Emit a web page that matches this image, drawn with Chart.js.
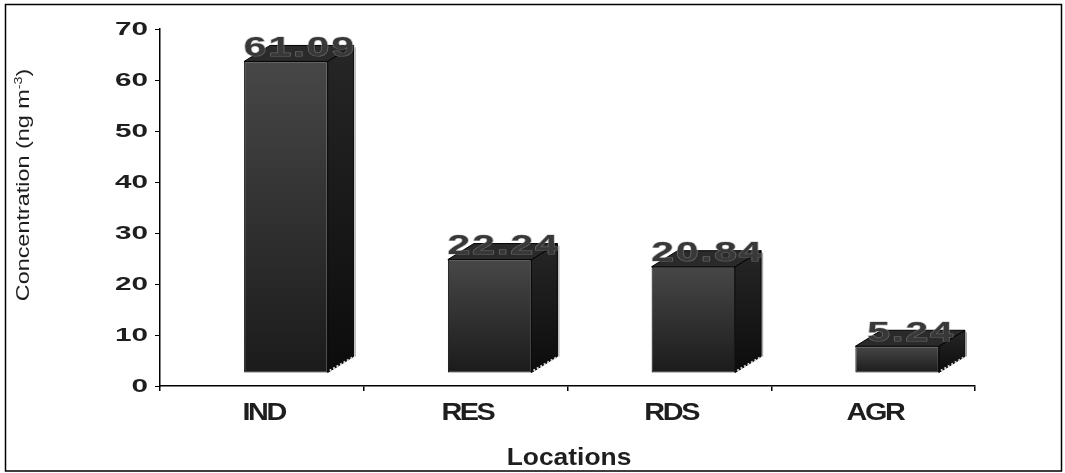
<!DOCTYPE html>
<html>
<head>
<meta charset="utf-8">
<script src="https://cdn.jsdelivr.net/npm/chart.js@4.4.1/dist/chart.umd.min.js"></script>
<style>
  html, body { margin: 0; padding: 0; background: #fff; }
  #wrap { width: 1065px; height: 473px; position: relative; }
</style>
</head>
<body>
<div id="wrap"><canvas id="c" width="1065" height="473"></canvas></div>
<script>
// Mean concentration per location type
const categories = ['IND', 'RES', 'RDS', 'AGR'];
const concentrations = [61.09, 22.24, 20.84, 5.24];
const yMin = 0, yMax = 70, yStep = 10;
const xTitle = 'Locations';
const yTitle = 'Concentration (ng m';
const yTitleSup = '-3';

// 3D box geometry (pixels): front face offset and depth of the box
const FRONT_DX = 24, FRONT_DY = -13;
const DEPTH_X = 26, DEPTH_Y = 16;

const FONT = '"Liberation Sans", Arial, sans-serif';

function drawText(ctx, text, x, y, o) {
  ctx.save();
  ctx.translate(x, y);
  if (o.rotate) ctx.rotate(o.rotate);
  ctx.scale(o.sx || 1, o.sy || 1);
  ctx.font = o.font;
  ctx.letterSpacing = '0px';
  const sp = o.spacing || 0;
  const w = ctx.measureText(text).width + sp * (text.length - 1);
  ctx.letterSpacing = sp + 'px';
  ctx.textAlign = 'left';
  ctx.textBaseline = 'alphabetic';
  const ox = o.align === 'right' ? -w : o.align === 'left' ? 0 : -w / 2;
  if (o.halo) {
    ctx.lineWidth = 1.2;
    ctx.lineJoin = 'round';
    ctx.strokeStyle = o.halo;
    ctx.strokeText(text, ox, 0);
  }
  ctx.fillStyle = o.color || '#000';
  ctx.fillText(text, ox, 0);
  ctx.restore();
}

const boxes3d = {
  id: 'boxes3d',
  beforeDatasetsDraw(chart) {
    chart.ctx.save();
    chart.ctx.translate(FRONT_DX, FRONT_DY);
  },
  afterDatasetsDraw(chart) {
    const ctx = chart.ctx;
    ctx.restore();
    const meta = chart.getDatasetMeta(0);
    meta.data.forEach((el, i) => {
      const p = el.getProps(['x', 'y', 'base', 'width'], true);
      const L = p.x - p.width / 2 + FRONT_DX;
      const R = p.x + p.width / 2 + FRONT_DX;
      const T = p.y + FRONT_DY;
      const B = p.base + FRONT_DY;

      ctx.save();
      ctx.lineWidth = 1;
      ctx.strokeStyle = '#000';
      ctx.lineJoin = 'round';
      // side face
      const gs = ctx.createLinearGradient(0, T - DEPTH_Y, 0, B);
      gs.addColorStop(0, '#262626');
      gs.addColorStop(1, '#0c0c0c');
      ctx.beginPath();
      ctx.moveTo(R, T);
      ctx.lineTo(R + DEPTH_X, T - DEPTH_Y);
      ctx.lineTo(R + DEPTH_X, B - DEPTH_Y);
      ctx.lineTo(R, B);
      ctx.closePath();
      ctx.fillStyle = gs;
      ctx.fill();
      ctx.stroke();
      // top face
      ctx.beginPath();
      ctx.moveTo(L, T);
      ctx.lineTo(L + DEPTH_X, T - DEPTH_Y);
      ctx.lineTo(R + DEPTH_X, T - DEPTH_Y);
      ctx.lineTo(R, T);
      ctx.closePath();
      ctx.fillStyle = '#2a2a2a';
      ctx.fill();
      ctx.stroke();
      // light rim on the back edge and dotted shading at the foot of the side
      ctx.strokeStyle = '#9a9a9a';
      ctx.beginPath();
      ctx.moveTo(R + DEPTH_X + 1.5, T - DEPTH_Y + 2);
      ctx.lineTo(R + DEPTH_X + 1.5, B - DEPTH_Y);
      ctx.stroke();
      ctx.setLineDash([2, 2]);
      ctx.lineWidth = 2;
      ctx.strokeStyle = '#d8d8d8';
      ctx.beginPath();
      ctx.moveTo(R + 2, B - 2);
      ctx.lineTo(R + DEPTH_X - 1, B - DEPTH_Y + 1);
      ctx.stroke();
      ctx.restore();

      // value label sits over the top of the box
      const cx = p.x + FRONT_DX + DEPTH_X / 2;
      const cy = T - DEPTH_Y / 2 - 7.5;
      drawText(ctx, concentrations[i].toFixed(2), cx, cy + 10, {
        font: 'bold 28px ' + FONT, sx: 1.45, spacing: 1.5, color: '#383838',
        halo: 'rgba(150,150,150,0.55)'
      });
    });
  },
  afterDraw(chart) {
    const ctx = chart.ctx;
    const ys = chart.scales.y, xs = chart.scales.x;
    // y tick labels
    ys.ticks.forEach((t, i) => {
      const py = ys.getPixelForTick(i);
      drawText(ctx, String(t.value), 148, py + 6.4, {
        font: 'bold 18px ' + FONT, sx: 1.65, align: 'right', color: '#1e1e1e'
      });
    });
    // category labels
    categories.forEach((c, i) => {
      const px = xs.getPixelForValue(i);
      drawText(ctx, c, px + 3, 420, {
        font: 'bold 24px ' + FONT, sx: 1.2, spacing: -2, color: '#1e1e1e'
      });
    });
    // axis titles
    drawText(ctx, xTitle, 569, 465, { font: 'bold 24px ' + FONT, sx: 1.1, color: '#1e1e1e' });

    ctx.save();
    ctx.translate(29, 185);
    ctx.rotate(-Math.PI / 2);
    ctx.scale(1.3, 1);
    ctx.fillStyle = '#1e1e1e';
    ctx.textBaseline = 'alphabetic';
    ctx.textAlign = 'left';
    ctx.font = '18px ' + FONT;
    const w1 = ctx.measureText(yTitle).width;
    const w3 = ctx.measureText(')').width;
    ctx.font = '11px ' + FONT;
    const w2 = ctx.measureText(yTitleSup).width;
    let x0 = -(w1 + w2 + w3) / 2;
    ctx.font = '18px ' + FONT;
    ctx.fillText(yTitle, x0, 0);
    ctx.font = '11px ' + FONT;
    ctx.fillText(yTitleSup, x0 + w1, -7);
    ctx.font = '18px ' + FONT;
    ctx.fillText(')', x0 + w1 + w2, 0);
    ctx.restore();

    // outer frame
    ctx.save();
    ctx.strokeStyle = '#000';
    ctx.lineWidth = 1.5;
    ctx.strokeRect(5.5, 4.5, 1056, 466.5);
    ctx.restore();
  }
};

const ctx = document.getElementById('c');
new Chart(ctx, {
  type: 'bar',
  data: {
    labels: categories,
    datasets: [{
      data: concentrations,
      clip: false,
      categoryPercentage: 1,
      barPercentage: 0.41,
      borderWidth: 1,
      borderColor: '#000',
      borderSkipped: false,
      backgroundColor: (c) => {
        const chart = c.chart;
        if (!chart.chartArea) return '#333';
        const ys = chart.scales.y;
        const v = concentrations[c.dataIndex];
        const top = ys.getPixelForValue(v), bot = ys.getPixelForValue(0);
        const g = chart.ctx.createLinearGradient(0, top, 0, bot);
        g.addColorStop(0, '#474747');
        g.addColorStop(1, '#1b1b1b');
        return g;
      }
    }]
  },
  options: {
    responsive: false,
    animation: false,
    devicePixelRatio: 1,
    layout: { padding: { left: 0, top: 29, right: 90, bottom: 0 } },
    plugins: { legend: { display: false }, tooltip: { enabled: false } },
    scales: {
      x: {
        grid: { display: true, drawOnChartArea: false, drawTicks: true, tickLength: 5, color: '#000', lineWidth: 1.5, offset: true },
        border: { display: true, color: '#000', width: 1.5 },
        ticks: { display: false },
        afterFit(s) { s.height = 87; }
      },
      y: {
        min: yMin, max: yMax,
        grid: { display: true, drawOnChartArea: false, drawTicks: true, tickLength: 5, color: '#000', lineWidth: 1 },
        border: { display: true, color: '#000', width: 1.5 },
        ticks: { display: false, stepSize: yStep },
        afterFit(s) { s.width = 160; }
      }
    }
  },
  plugins: [boxes3d]
});
</script>
</body>
</html>
